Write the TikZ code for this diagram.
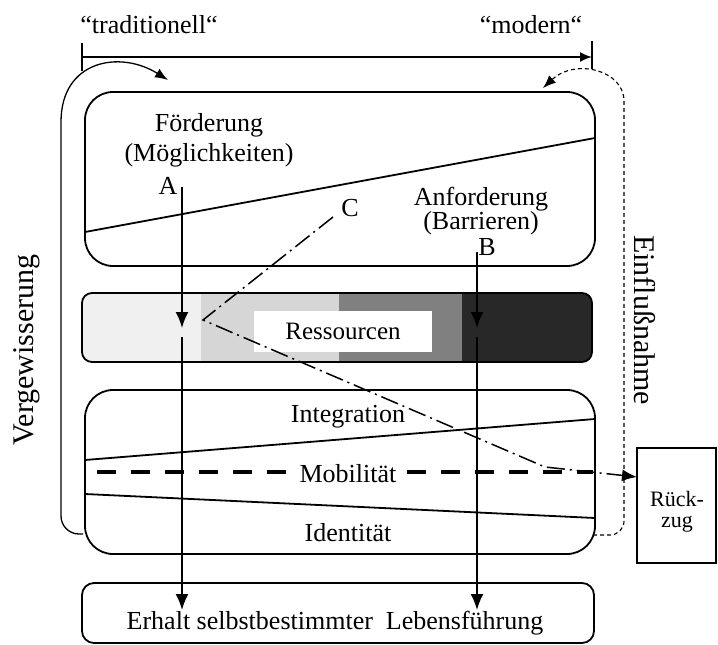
\documentclass[tikz,border=0pt]{standalone}
\usepackage{fontspec}
\setmainfont{Liberation Serif}
\usetikzlibrary{arrows.meta,positioning}
\definecolor{resA}{HTML}{F0F0F0}
\definecolor{resB}{HTML}{D6D6D6}
\definecolor{resC}{HTML}{808080}
\definecolor{resD}{HTML}{282828}

\begin{document}
\begin{tikzpicture}[x=1pt,y=-1pt,line width=1.8pt,
  txt/.style={font=\fontsize{26}{30}\selectfont, inner sep=0pt, align=center},
  txtenge/.style={font=\fontsize{26}{23}\selectfont, inner sep=0pt, align=center},
  seite/.style={font=\fontsize{30}{30}\selectfont, inner sep=0pt},
  pfeil/.style={-{Latex[length=16pt,width=13pt]}},
  bogen/.style={line width=1.3pt,-{Latex[length=13pt,width=10pt]}},
  strichpunkt/.style={line width=1.5pt, dash pattern=on 18pt off 5pt on 2pt off 5pt},
  mob/.style={line width=4pt, dash pattern=on 19pt off 15pt}]
\useasboundingbox (0,0) rectangle (718,645);

% Achse traditionell - modern
\node[txt] (trad) at (149,25) {\char"201Ctraditionell\char"201C};
\node[txt] (mod) at (531,25) {\char"201Cmodern\char"201C};
\coordinate (ax1) at (82,57);
\coordinate (ax2) at (592,57);
\draw (82,43) -- (82,71);
\draw (592,41) -- (592,69);
\draw[-{Latex[length=12pt,width=10pt]}] (ax1) -- (ax2);

% Kaesten
\draw[rounded corners=28pt] (85,92) rectangle (595,266);
\draw[rounded corners=28pt] (85,390) rectangle (595,554);
\draw[rounded corners=12pt] (82,583) rectangle (594,643);

% Ressourcen
\begin{scope}
\clip[rounded corners=10pt] (82,293) rectangle (592,362);
\fill[resA] (82,293) rectangle (201,362);
\fill[resB] (201,293) rectangle (339,362);
\fill[resC] (339,293) rectangle (462,362);
\fill[resD] (462,293) rectangle (592,362);
\end{scope}
\draw[rounded corners=10pt] (82,293) rectangle (592,362);
\node[txt, fill=white, font=\fontsize{25}{25}\selectfont,
  minimum width=178pt, minimum height=41pt] (res) at (343,331.5) {Ressourcen};

% oberer Kasten
\draw (85,232) -- (595,138);
\node[txt] (foerd) at (209,140) {Förderung\\(Möglichkeiten)};
\node[txtenge] (anf) at (481,211) {Anforderung\\(Barrieren)};
\node[txt] (a) at (168,186) {A};
\node[txt] (b) at (487,247) {B};
\node[txt] (c) at (350,208) {C};

% mittlerer Kasten
\draw (85,460) -- (595,419);
\draw (85,494) -- (595,518);
\node[txt] (integ) at (348,417) {Integration};
\node[txt, inner xsep=10pt] (mobil) at (348,474) {Mobilität};
\node[txt] (ident) at (348,533) {Identität};
\draw[mob] (97,472) -- (mobil.west |- 0,472);
\draw[mob] (mobil.east |- 0,472) -- (593,472);

% unterer Kasten
\node[txt] (erhalt) at (335,623) {Erhalt selbstbestimmter\ \ Lebensführung};

% Rueckzug
\node[draw, line width=1.6pt, minimum width=79pt, minimum height=115pt] (rueck) at (676.5,505.5) {};
\node[font=\fontsize{22}{22}\selectfont, inner sep=0pt] (rueck1) at (677,499) {Rück-};
\node[font=\fontsize{22}{22}\selectfont, inner sep=0pt] (rueck2) at (677,524) {zug};
\coordinate (rz) at (637,477);

% Seitentexte
\node[seite, rotate=90] (verg) at (27,350) {Vergewisserung};
\node[seite, rotate=-90] (einfl) at (645,320) {Einflußnahme};

% Pfeile A und B
\coordinate (a1) at (182,187);
\coordinate (a2) at (182,328);
\coordinate (a3) at (182,337);
\coordinate (a4) at (182,610);
\coordinate (b1) at (477,252);
\coordinate (b2) at (477,328);
\coordinate (b3) at (477,337);
\coordinate (b4) at (477,610);
\draw[pfeil] (a1) -- (a2);
\draw[pfeil] (a3) -- (a4);
\draw[pfeil] (b1) -- (b2);
\draw[pfeil] (b3) -- (b4);

% Linie C
\coordinate (c1) at (333,217);
\coordinate (c2) at (203,320);
\coordinate (c3) at (545,467);
\draw[strichpunkt, -{Latex[length=15pt,width=12pt]}] (c1) -- (c2) -- (c3) -- (rz);

% Boegen
\draw[bogen, rounded corners=18pt] (83,534) -| (61,140) .. controls (61,60) and (120,50) .. (168,80);
\draw[bogen, line width=1.1pt, dash pattern=on 4pt off 3pt, rounded corners=14pt] (593,535) -| (624,115) .. controls (624,70) and (575,58) .. (543,88);
\end{tikzpicture}
\end{document}
